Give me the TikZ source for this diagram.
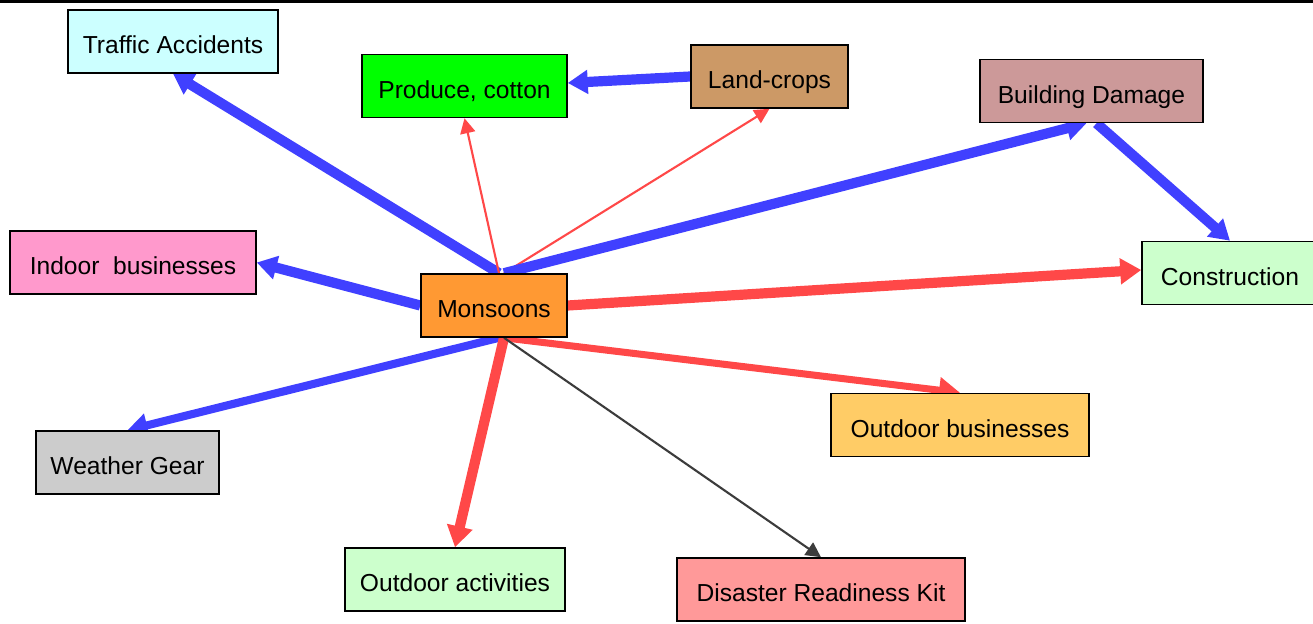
\documentclass[tikz,border=0pt]{standalone}
\usepackage{fontspec}
\setmainfont{Liberation Sans}
\usetikzlibrary{arrows.meta,positioning,backgrounds}
\definecolor{linkblue}{RGB}{64,64,255}
\definecolor{linkred}{RGB}{255,72,72}
\definecolor{linkgrey}{RGB}{60,60,60}
\definecolor{cyanlight}{RGB}{204,255,255}
\definecolor{greenbright}{RGB}{0,255,0}
\definecolor{tan}{RGB}{204,153,102}
\definecolor{rosy}{RGB}{204,153,153}
\definecolor{pinkish}{RGB}{255,153,204}
\definecolor{orangemid}{RGB}{255,153,51}
\definecolor{greenlight}{RGB}{204,255,204}
\definecolor{orangelight}{RGB}{255,204,102}
\definecolor{greylight}{RGB}{204,204,204}
\definecolor{salmon}{RGB}{255,153,153}

\begin{document}
\begin{tikzpicture}[x=0.02cm, y=-0.02cm,
    topic/.style={rectangle, draw=black, line width=0.9pt,
        minimum height=1.26cm, font=\fontsize{14}{16}\selectfont, inner sep=2pt,
        text height=17pt, text depth=3pt},
    bluearr/.style={-{Triangle[length=0.4cm, width=0.46cm]}, line width=5.8pt, linkblue},
    redarr/.style={-{Triangle[length=0.42cm, width=0.5cm]}, line width=5.8pt, linkred},
    thinarr/.style={-{Triangle[length=0.3cm, width=0.3cm]}, line width=1.2pt}
]
    \useasboundingbox (0,0) rectangle (1313,624);
    \draw[line width=2pt] (0,1) -- (1313,1);

    \node[topic, fill=cyanlight, minimum width=4.2cm] (traffic) at (173,41.5) {Traffic Accidents};
    \node[topic, fill=greenbright, minimum width=4.1cm] (produce) at (464.5,86) {Produce, cotton};
    \node[topic, fill=tan, minimum width=3.14cm] (land) at (769.5,76.5) {Land-crops};
    \node[topic, fill=rosy, minimum width=4.46cm] (damage) at (1091.5,91) {Building Damage};
    \node[topic, fill=pinkish, minimum width=4.92cm] (indoor) at (133,262.5) {Indoor\ \ businesses};
    \node[topic, fill=orangemid, minimum width=2.92cm] (mons) at (494,305.5) {Monsoons};
    \node[topic, fill=greenlight, minimum width=3.52cm] (constr) at (1230,273) {Construction};
    \node[topic, fill=orangelight, minimum width=5.16cm] (outbus) at (960,425) {Outdoor businesses};
    \node[topic, fill=greylight, minimum width=3.66cm] (gear) at (127.5,462.5) {Weather Gear};
    \node[topic, fill=greenlight, minimum width=4.4cm] (outact) at (455,579.5) {Outdoor activities};
    \node[topic, fill=salmon, minimum width=5.76cm] (kit) at (821,589.5) {Disaster Readiness Kit};

    \begin{scope}[on background layer]
        % links leaving the top of Monsoons
        \draw[bluearr] ([xshift=0.1cm]mons.north) -- (traffic.south);
        \draw[thinarr, linkred] ([xshift=0.1cm]mons.north) -- (produce.south);
        \draw[thinarr, linkred] ([xshift=0.2cm]mons.north) -- (land.south);
        \draw[bluearr] ([xshift=0.2cm]mons.north) -- ([xshift=-0.1cm]damage.south);
        \draw[bluearr] ([xshift=0.1cm]damage.south) -- (constr.north);
        \draw[bluearr] (land.west) -- ([yshift=0.06cm]produce.east);
        % links leaving the sides
        \draw[bluearr] (mons.west) -- (indoor.east);
        \draw[redarr] (mons.east) -- ([yshift=0.06cm]constr.west);
        % links leaving the bottom
        \draw[bluearr, line width=4.6pt] ([xshift=0.1cm]mons.south) -- (gear.north);
        \draw[redarr, line width=4pt] ([xshift=0.2cm]mons.south) -- (outbus.north);
        \draw[redarr] ([xshift=0.2cm]mons.south) -- (outact.north);
        \draw[thinarr, linkgrey] ([xshift=0.2cm]mons.south) -- (kit.north);
    \end{scope}
\end{tikzpicture}
\end{document}
